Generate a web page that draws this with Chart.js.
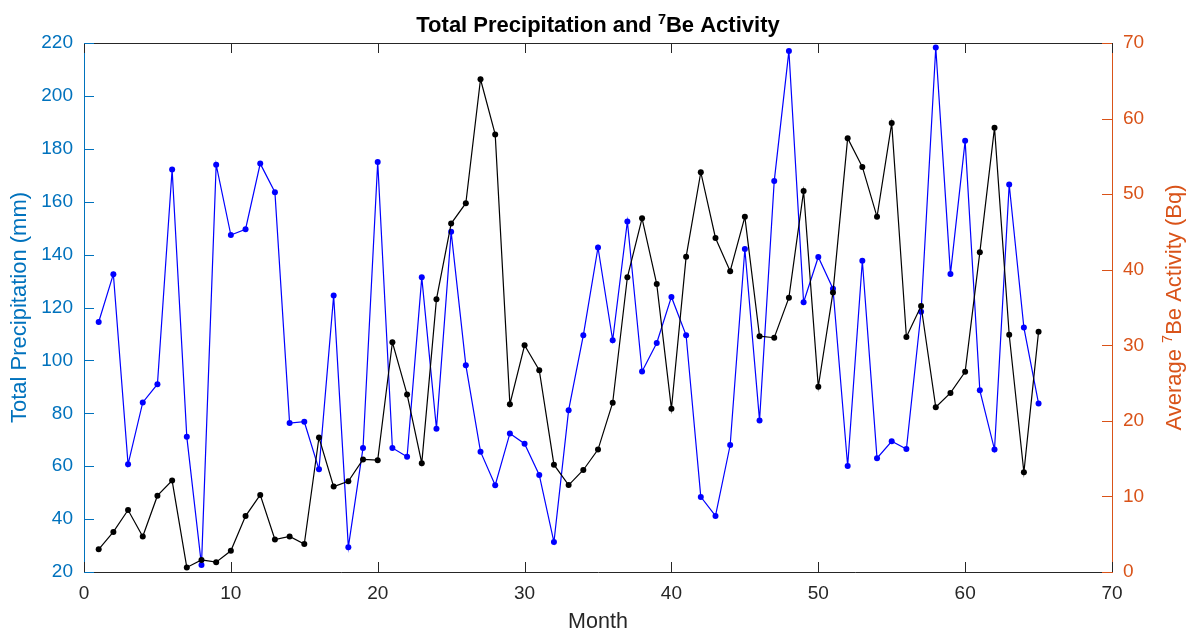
<!DOCTYPE html>
<html>
<head>
<meta charset="utf-8">
<script src="https://cdn.jsdelivr.net/npm/chart.js@4.4.0/dist/chart.umd.min.js"></script>
<style>
  html, body { margin: 0; padding: 0; background: #fff; }
</style>
</head>
<body>
<canvas id="chart" width="1197" height="636"></canvas>
<script>
// monthly totals
const months = [1, 2, 3, 4, 5, 6, 7, 8, 9, 10, 11, 12, 13, 14, 15, 16, 17, 18, 19, 20,
  21, 22, 23, 24, 25, 26, 27, 28, 29, 30, 31, 32, 33, 34, 35, 36, 37, 38, 39, 40,
  41, 42, 43, 44, 45, 46, 47, 48, 49, 50, 51, 52, 53, 54, 55, 56, 57, 58, 59, 60,
  61, 62, 63, 64, 65];

// precipitation, mm
const precipitation = [114.5, 132.6, 60.7, 84.1, 91.0, 172.2, 71.1, 22.6, 174.0, 147.4,
  149.6, 174.4, 163.6, 76.3, 76.8, 58.8, 124.5, 29.4, 66.9, 175.0,
  66.9, 63.6, 131.4, 74.2, 148.6, 98.2, 65.5, 52.8, 72.4, 68.5,
  56.7, 31.3, 81.2, 109.5, 142.7, 107.6, 152.5, 95.8, 106.6, 124.0,
  109.5, 48.4, 41.2, 68.0, 142.1, 77.3, 167.8, 217.0, 122.0, 139.1,
  127.1, 60.1, 137.7, 63.0, 69.4, 66.5, 118.4, 218.3, 132.7, 183.0,
  88.7, 66.3, 166.5, 112.4, 83.7];

// average 7Be activity, Bq
const beActivity = [3.0, 5.3, 8.2, 4.7, 10.1, 12.1, 0.6, 1.6, 1.3, 2.8,
  7.4, 10.2, 4.3, 4.7, 3.7, 17.8, 11.3, 12.0, 14.9, 14.8,
  30.4, 23.5, 14.4, 36.1, 46.1, 48.8, 65.2, 57.9, 22.2, 30.0,
  26.7, 14.2, 11.5, 13.5, 16.2, 22.4, 39.0, 46.8, 38.1, 21.6,
  41.7, 52.9, 44.2, 39.8, 47.0, 31.2, 31.0, 36.3, 50.4, 24.5,
  37.0, 57.4, 53.6, 47.0, 59.4, 31.1, 35.2, 21.8, 23.7, 26.5,
  42.3, 58.8, 31.4, 13.2, 31.8];

const FONT = '"Liberation Sans", Arial, Helvetica, sans-serif';
const AXIS_DARK = '#262626';
const LEFT_COLOR = '#0072BD';
const RIGHT_COLOR = '#D95319';
const TICK_LEN = 10;

// MATLAB-style ticks pointing into the plot, plus the top frame line
const innerTicks = {
  id: 'innerTicks',
  afterDatasetsDraw(chart) {
    const { ctx, chartArea: a, scales } = chart;
    ctx.save();
    ctx.lineWidth = 1;

    ctx.strokeStyle = AXIS_DARK;
    ctx.beginPath();
    ctx.moveTo(a.left, a.top + 0.5);
    ctx.lineTo(a.right, a.top + 0.5);
    scales.x.ticks.forEach(t => {
      const px = Math.round(scales.x.getPixelForValue(t.value)) + 0.5;
      ctx.moveTo(px, a.bottom);
      ctx.lineTo(px, a.bottom - TICK_LEN);
      ctx.moveTo(px, a.top);
      ctx.lineTo(px, a.top + TICK_LEN);
    });
    ctx.stroke();

    ctx.strokeStyle = LEFT_COLOR;
    ctx.beginPath();
    scales.y.ticks.forEach(t => {
      const py = Math.round(scales.y.getPixelForValue(t.value)) + 0.5;
      ctx.moveTo(a.left, py);
      ctx.lineTo(a.left + TICK_LEN, py);
    });
    ctx.stroke();

    ctx.strokeStyle = RIGHT_COLOR;
    ctx.beginPath();
    scales.y2.ticks.forEach(t => {
      const py = Math.round(scales.y2.getPixelForValue(t.value)) + 0.5;
      ctx.moveTo(a.right, py);
      ctx.lineTo(a.right - TICK_LEN, py);
    });
    ctx.stroke();
    ctx.restore();
  }
};

// draws a run of text pieces, some of them raised as superscripts
function drawPieces(ctx, pieces, x, y) {
  let total = 0;
  pieces.forEach(p => { ctx.font = p.font; total += ctx.measureText(p.text).width; });
  let cx = x - total / 2;
  pieces.forEach(p => {
    ctx.font = p.font;
    ctx.fillText(p.text, cx, y + (p.rise || 0));
    cx += ctx.measureText(p.text).width;
  });
}

// chart title and right axis label both carry a superscript 7
const labelsWithSup = {
  id: 'labelsWithSup',
  afterDraw(chart) {
    const { ctx, chartArea: a } = chart;
    ctx.save();
    ctx.textBaseline = 'alphabetic';
    ctx.textAlign = 'left';

    ctx.fillStyle = '#000';
    drawPieces(ctx, [
      { text: 'Total Precipitation and ', font: `bold 22px ${FONT}` },
      { text: '7', font: `bold 14.5px ${FONT}`, rise: -8 },
      { text: 'Be Activity', font: `bold 22px ${FONT}` }
    ], (a.left + a.right) / 2, 32);

    ctx.fillStyle = RIGHT_COLOR;
    ctx.translate(1181, (a.top + a.bottom) / 2);
    ctx.rotate(-Math.PI / 2);
    drawPieces(ctx, [
      { text: 'Average ', font: `22px ${FONT}` },
      { text: '7', font: `14.5px ${FONT}`, rise: -9 },
      { text: 'Be Activity (Bq)', font: `22px ${FONT}` }
    ], 0, 0);
    ctx.restore();
  }
};

const precipPoints = months.map((m, i) => ({ x: m, y: precipitation[i] }));
const bePoints = months.map((m, i) => ({ x: m, y: beActivity[i] }));

new Chart(document.getElementById('chart'), {
  type: 'line',
  data: {
    datasets: [
      {
        label: 'Total Precipitation (mm)',
        data: precipPoints,
        yAxisID: 'y',
        borderColor: '#0000FF',
        backgroundColor: '#0000FF',
        borderWidth: 1.2,
        pointRadius: 3,
        pointBorderWidth: 0,
        pointBackgroundColor: '#0000FF',
        tension: 0,
        clip: false,
        order: 1
      },
      {
        label: 'Average 7Be Activity (Bq)',
        data: bePoints,
        yAxisID: 'y2',
        borderColor: '#000000',
        backgroundColor: '#000000',
        borderWidth: 1.2,
        pointRadius: 3,
        pointBorderWidth: 0,
        pointBackgroundColor: '#000000',
        tension: 0,
        clip: false,
        order: 0
      }
    ]
  },
  options: {
    responsive: false,
    animation: false,
    layout: { padding: { top: 43, left: 0, right: 0, bottom: 0 } },
    plugins: {
      legend: { display: false },
      title: { display: false },
      tooltip: { enabled: false }
    },
    scales: {
      x: {
        type: 'linear',
        min: 0,
        max: 70,
        afterFit(s) { s.height = 64; },
        grid: { display: false, drawTicks: false },
        border: { display: true, color: AXIS_DARK, width: 1 },
        ticks: { stepSize: 10, color: AXIS_DARK, padding: 10, font: { family: FONT, size: 19 } },
        title: {
          display: true, text: 'Month', color: AXIS_DARK,
          font: { family: FONT, size: 21.5 }, padding: { top: 0, bottom: 1 }
        }
      },
      y: {
        position: 'left',
        min: 20,
        max: 220,
        afterFit(s) { s.width = 84; },
        grid: { display: false, drawTicks: false },
        border: { display: true, color: LEFT_COLOR, width: 1 },
        ticks: { stepSize: 20, color: LEFT_COLOR, padding: 11, font: { family: FONT, size: 19 } },
        title: {
          display: true, text: 'Total Precipitation (mm)', color: LEFT_COLOR,
          font: { family: FONT, size: 22 }, padding: { top: 7, bottom: 0 }
        }
      },
      y2: {
        position: 'right',
        min: 0,
        max: 70,
        afterFit(s) { s.width = 85; },
        grid: { display: false, drawTicks: false },
        border: { display: true, color: RIGHT_COLOR, width: 1 },
        ticks: { stepSize: 10, color: RIGHT_COLOR, padding: 11, font: { family: FONT, size: 19 } }
      }
    }
  },
  plugins: [innerTicks, labelsWithSup]
});
</script>
</body>
</html>
